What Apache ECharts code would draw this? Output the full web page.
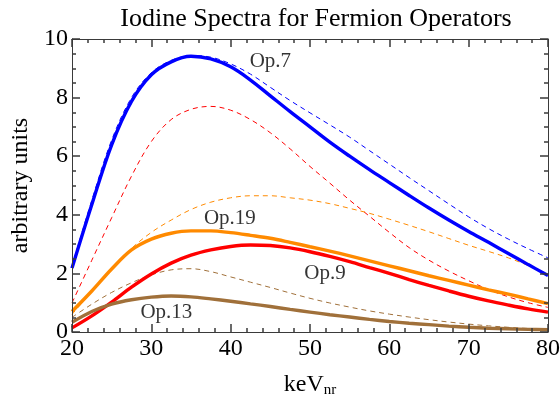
<!DOCTYPE html>
<html><head><meta charset="utf-8">
<script src="https://cdn.jsdelivr.net/npm/echarts@6/dist/echarts.min.js"></script>
<style>html,body{margin:0;padding:0;background:#fff}#c{width:560px;height:400px}</style>
</head><body><div id="c"></div>
<script>
const energies = [20,22.5,25,27.5,30,32.5,35,37.5,40,42.5,45,47.5,50,52.5,55,57.5,60,62.5,65,67.5,70,72.5,75,77.5,80];
const op7Solid  = [2.18,4.35,6.39,7.87,8.78,9.22,9.41,9.32,9.05,8.6,8.06,7.52,7.0,6.48,6.0,5.54,5.1,4.66,4.23,3.82,3.43,3.06,2.68,2.3,1.93];
const op7Dashed = [2.25,4.5,6.55,8.0,8.85,9.27,9.43,9.38,9.15,8.8,8.35,7.9,7.48,7.07,6.65,6.19,5.73,5.27,4.82,4.37,3.93,3.53,3.17,2.84,2.53];
const op9Solid  = [0.14,0.55,1.02,1.53,1.98,2.35,2.62,2.8,2.92,2.97,2.95,2.87,2.74,2.58,2.4,2.2,2.0,1.79,1.59,1.4,1.22,1.06,0.92,0.79,0.68];
const op9Dashed = [0.99,2.45,3.9,5.32,6.5,7.25,7.6,7.7,7.57,7.25,6.8,6.25,5.65,5.08,4.5,3.95,3.4,2.88,2.45,2.08,1.75,1.45,1.2,1.0,0.84];
const op19Solid = [0.7,1.4,2.15,2.8,3.17,3.37,3.45,3.45,3.39,3.3,3.2,3.06,2.91,2.76,2.6,2.43,2.26,2.09,1.92,1.76,1.6,1.44,1.29,1.13,0.97];
const op19Dashed= [0.6,1.38,2.12,2.85,3.4,3.82,4.18,4.43,4.58,4.65,4.65,4.58,4.5,4.38,4.22,4.05,3.85,3.64,3.42,3.19,2.96,2.75,2.53,2.27,1.98];
const op13Solid = [0.33,0.7,0.95,1.1,1.19,1.23,1.2,1.13,1.05,0.96,0.87,0.77,0.68,0.59,0.51,0.43,0.36,0.3,0.25,0.2,0.16,0.13,0.11,0.09,0.08];
const op13Dashed= [0.5,0.95,1.35,1.68,1.95,2.12,2.16,2.06,1.88,1.7,1.52,1.33,1.15,0.99,0.85,0.72,0.61,0.51,0.42,0.34,0.27,0.21,0.16,0.12,0.09];
const opLabels = ['Op.7','Op.19','Op.9','Op.13'];
const opLabelPos = [[45,9.24],[39.9,3.89],[51.9,2.01],[31.9,0.65]];

const BLUE='#0000ff', RED='#ff0000', ORANGE='#ff8a00', BROWN='#a0703a';
const FONT='"Liberation Serif","Times New Roman",serif';
const AX='#3a3a3a';
const pairs = v => energies.map((e,i)=>[e,v[i]]);
function line(data,color,dashed){
  return {type:'line',data:pairs(data),smooth:0.35,showSymbol:false,
    lineStyle:{color:color,width:dashed?1:3.4,type:dashed?[5,4]:'solid'}};
}
const chart = echarts.init(document.getElementById('c'),null,{renderer:'canvas'});
chart.setOption({
  animation:false,
  title:{text:'Iodine Spectra for Fermion Operators',left:311,top:1,textAlign:'center',
    textStyle:{fontFamily:FONT,fontWeight:'normal',fontSize:26,color:'#000'}},
  grid:{left:72,right:12,top:39,bottom:68,containLabel:false,outerBoundsMode:'none'},
  xAxis:[
    {type:'value',min:20,max:80,interval:10,splitLine:{show:false},z:10,
      axisLine:{show:true,onZero:false,lineStyle:{color:AX}},
      axisTick:{show:true,inside:true,length:8,lineStyle:{color:AX,width:1.5}},
      minorTick:{show:true,splitNumber:5,length:4,lineStyle:{color:AX,width:1.5}},
      axisLabel:{fontFamily:FONT,fontSize:24,color:'#000',margin:5},
      name:'{a|keV}{b|nr}',nameLocation:'middle',nameGap:39,
      nameTextStyle:{rich:{a:{fontFamily:FONT,fontSize:24,color:'#000'},b:{fontFamily:FONT,fontSize:15,color:'#000',verticalAlign:'bottom',padding:[12,0,0,0]}}}},
    {type:'value',min:20,max:80,interval:10,position:'top',splitLine:{show:false},z:10,
      axisLine:{show:true,onZero:false,lineStyle:{color:AX}},
      axisTick:{show:true,inside:true,length:8,lineStyle:{color:AX,width:1.5}},
      minorTick:{show:true,splitNumber:5,length:4,lineStyle:{color:AX,width:1.5}},
      axisLabel:{show:false}}
  ],
  yAxis:[
    {type:'value',min:0,max:10,interval:2,splitLine:{show:false},z:10,
      axisLine:{show:true,onZero:false,lineStyle:{color:AX}},
      axisTick:{show:true,inside:true,length:8,lineStyle:{color:AX,width:1.5}},
      minorTick:{show:true,splitNumber:4,length:4,lineStyle:{color:AX,width:1.5}},
      axisLabel:{fontFamily:FONT,fontSize:24,color:'#000',margin:4},
      name:'arbitrary units',nameLocation:'middle',nameGap:39,nameRotate:90,
      nameTextStyle:{fontFamily:FONT,fontSize:24,color:'#000'}},
    {type:'value',min:0,max:10,interval:2,position:'right',splitLine:{show:false},z:10,
      axisLine:{show:true,onZero:false,lineStyle:{color:AX}},
      axisTick:{show:true,inside:true,length:8,lineStyle:{color:AX,width:1.5}},
      minorTick:{show:true,splitNumber:4,length:4,lineStyle:{color:AX,width:1.5}},
      axisLabel:{show:false}}
  ],
  series:[
    line(op7Dashed,BLUE,true), line(op9Dashed,RED,true), line(op19Dashed,ORANGE,true), line(op13Dashed,BROWN,true),
    line(op7Solid,BLUE,false), line(op19Solid,ORANGE,false), line(op9Solid,RED,false), line(op13Solid,BROWN,false),
    {type:'scatter',symbolSize:0,
      data:opLabelPos.map((p,i)=>({value:p,name:opLabels[i]})),
      label:{show:true,position:'inside',formatter:p=>p.name,fontFamily:FONT,fontSize:21,color:'#000'}}
  ]
});
</script></body></html>
